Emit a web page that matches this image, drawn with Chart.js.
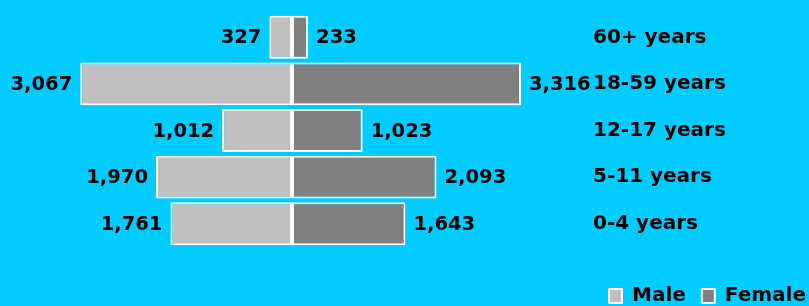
<!DOCTYPE html>
<html>
<head>
<meta charset="utf-8">
<script src="https://cdn.jsdelivr.net/npm/chart.js@4"></script>
<style>
  html, body { margin: 0; padding: 0; background: #00ccff; }
  #wrap { width: 809px; height: 306px; position: relative; }
</style>
</head>
<body>
<div id="wrap"><canvas id="pyramid"></canvas></div>
<script>
const ageGroups = ['60+ years', '18-59 years', '12-17 years', '5-11 years', '0-4 years'];
const maleCounts = [327, 3067, 1012, 1970, 1761];
const femaleCounts = [233, 3316, 1023, 2093, 1643];

const FONT = { family: 'DejaVu Sans', weight: 'bold', size: 20 };
const fmt = n => n.toLocaleString('en-US');

// value labels just outside each bar end
const barLabels = {
    id: 'barLabels',
    afterDatasetsDraw(chart) {
        const ctx = chart.ctx;
        ctx.save();
        ctx.font = `bold 19.5px ${FONT.family}`;
        ctx.fillStyle = '#000';
        ctx.textBaseline = 'middle';
        chart.data.datasets.forEach((ds, i) => {
            const meta = chart.getDatasetMeta(i);
            meta.data.forEach((bar, j) => {
                const v = Math.abs(ds.data[j]);
                if (ds.data[j] < 0) {
                    ctx.textAlign = 'right';
                    ctx.fillText(fmt(v), bar.x - 8, bar.y + 1);
                } else {
                    ctx.textAlign = 'left';
                    ctx.fillText(fmt(v), bar.x + 8, bar.y + 1);
                }
            });
        });
        ctx.restore();
    }
};

new Chart(document.getElementById('pyramid'), {
    type: 'bar',
    data: {
        labels: ageGroups,
        datasets: [{
            label: 'Male',
            data: maleCounts.map(v => -v),
            backgroundColor: '#c0c0c0',
            borderColor: '#ffffff',
            borderWidth: 2,
            borderSkipped: false,
            barPercentage: 0.92,
            categoryPercentage: 1
        }, {
            label: 'Female',
            data: femaleCounts,
            backgroundColor: '#808080',
            borderColor: '#ffffff',
            borderWidth: 2,
            borderSkipped: false,
            barPercentage: 0.92,
            categoryPercentage: 1
        }]
    },
    options: {
        indexAxis: 'y',
        responsive: true,
        maintainAspectRatio: false,
        animation: false,
        layout: { padding: { top: 14, left: 2, right: -13, bottom: -10 } },
        plugins: {
            legend: {
                position: 'bottom',
                align: 'end',
                labels: {
                    color: '#000',
                    font: FONT,
                    boxWidth: 13,
                    boxHeight: 14,
                    padding: 16
                }
            },
            tooltip: { enabled: false }
        },
        scales: {
            x: {
                stacked: true,
                min: -4200,
                max: 4200,
                grid: { display: false, drawTicks: false },
                border: { display: false },
                ticks: { display: false },
                afterFit(scale) { scale.height = 23; }
            },
            y: {
                stacked: true,
                position: 'right',
                grid: { display: false, drawTicks: false },
                border: { display: false },
                afterFit(scale) {
                    scale.width = 240;
                    scale.paddingTop = 0;
                    scale.paddingBottom = 0;
                },
                ticks: {
                    color: '#000',
                    font: FONT,
                    crossAlign: 'near',
                    padding: 11
                }
            }
        }
    },
    plugins: [barLabels]
});
</script>
</body>
</html>
